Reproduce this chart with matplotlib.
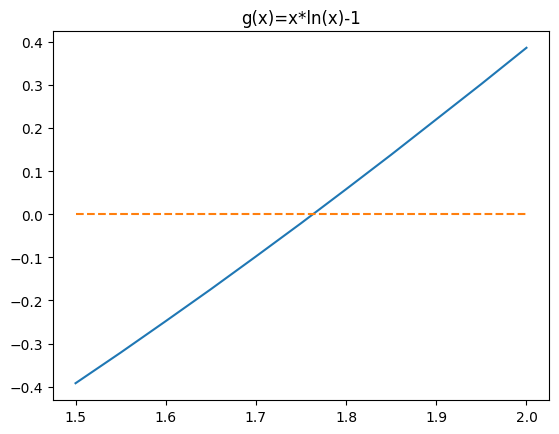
import matplotlib
matplotlib.use('Agg')
import matplotlib.pyplot as plt

# values
x_vals = [1.5, 1.55, 1.6, 1.65, 1.7, 1.75, 1.8, 1.85, 1.9, 1.95, 2.0]
g_vals = [-0.392, -0.321, -0.248, -0.174, -0.098, -0.021, 0.058, 0.138, 0.220, 0.302, 0.386]
zero_x = [1.5, 2.0]
zero_y = [0.0, 0.0]

fig = plt.figure(figsize=(5.59, 4.35), dpi=100)
ax = fig.add_axes([53 / 559, 34 / 435, 496 / 559, 369 / 435])
ax.plot(x_vals, g_vals)
ax.plot(zero_x, zero_y, '--')
ax.set_title('g(x)=x*ln(x)-1')
fig.savefig('out.png', dpi=100)
